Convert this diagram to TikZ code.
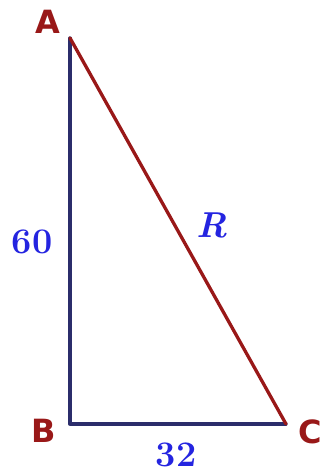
\documentclass[tikz,border=0pt]{standalone}
\usepackage{fontspec}
\newfontfamily\labfont{DejaVu Sans}
\definecolor{edgered}{HTML}{991818}
\definecolor{edgenavy}{HTML}{2B2D6B}
\definecolor{numblue}{HTML}{2424E0}
\begin{document}
\begin{tikzpicture}[x=1pt,y=1pt,
  vlabel/.style={text=edgered,font=\labfont\bfseries\fontsize{32}{36}\selectfont,inner sep=0pt},
  nlabel/.style={text=numblue,font=\bfseries\fontsize{36}{40}\selectfont,inner sep=0pt},
  edge/.style={line width=3.3pt,line cap=round,line join=round}]
\useasboundingbox (0,0) rectangle (323,473);
\coordinate (A) at (70,435);
\coordinate (B) at (70,49);
\coordinate (C) at (286,49);
\draw[edge,edgenavy] (A) -- (B) -- (C);
\draw[edge,edgered] (A) -- (C);
\node[vlabel] (lA) at (48,451) {A};
\node[vlabel] (lB) at (44,42) {B};
\node[vlabel] (lC) at (310,41) {C};
\node[nlabel] (l60) at (32,231) {60};
\node[nlabel,font=\bfseries\itshape\fontsize{36}{40}\selectfont] (lR) at (212,248) {R};
\node[nlabel] (l32) at (176,18) {32};
\end{tikzpicture}
\end{document}
